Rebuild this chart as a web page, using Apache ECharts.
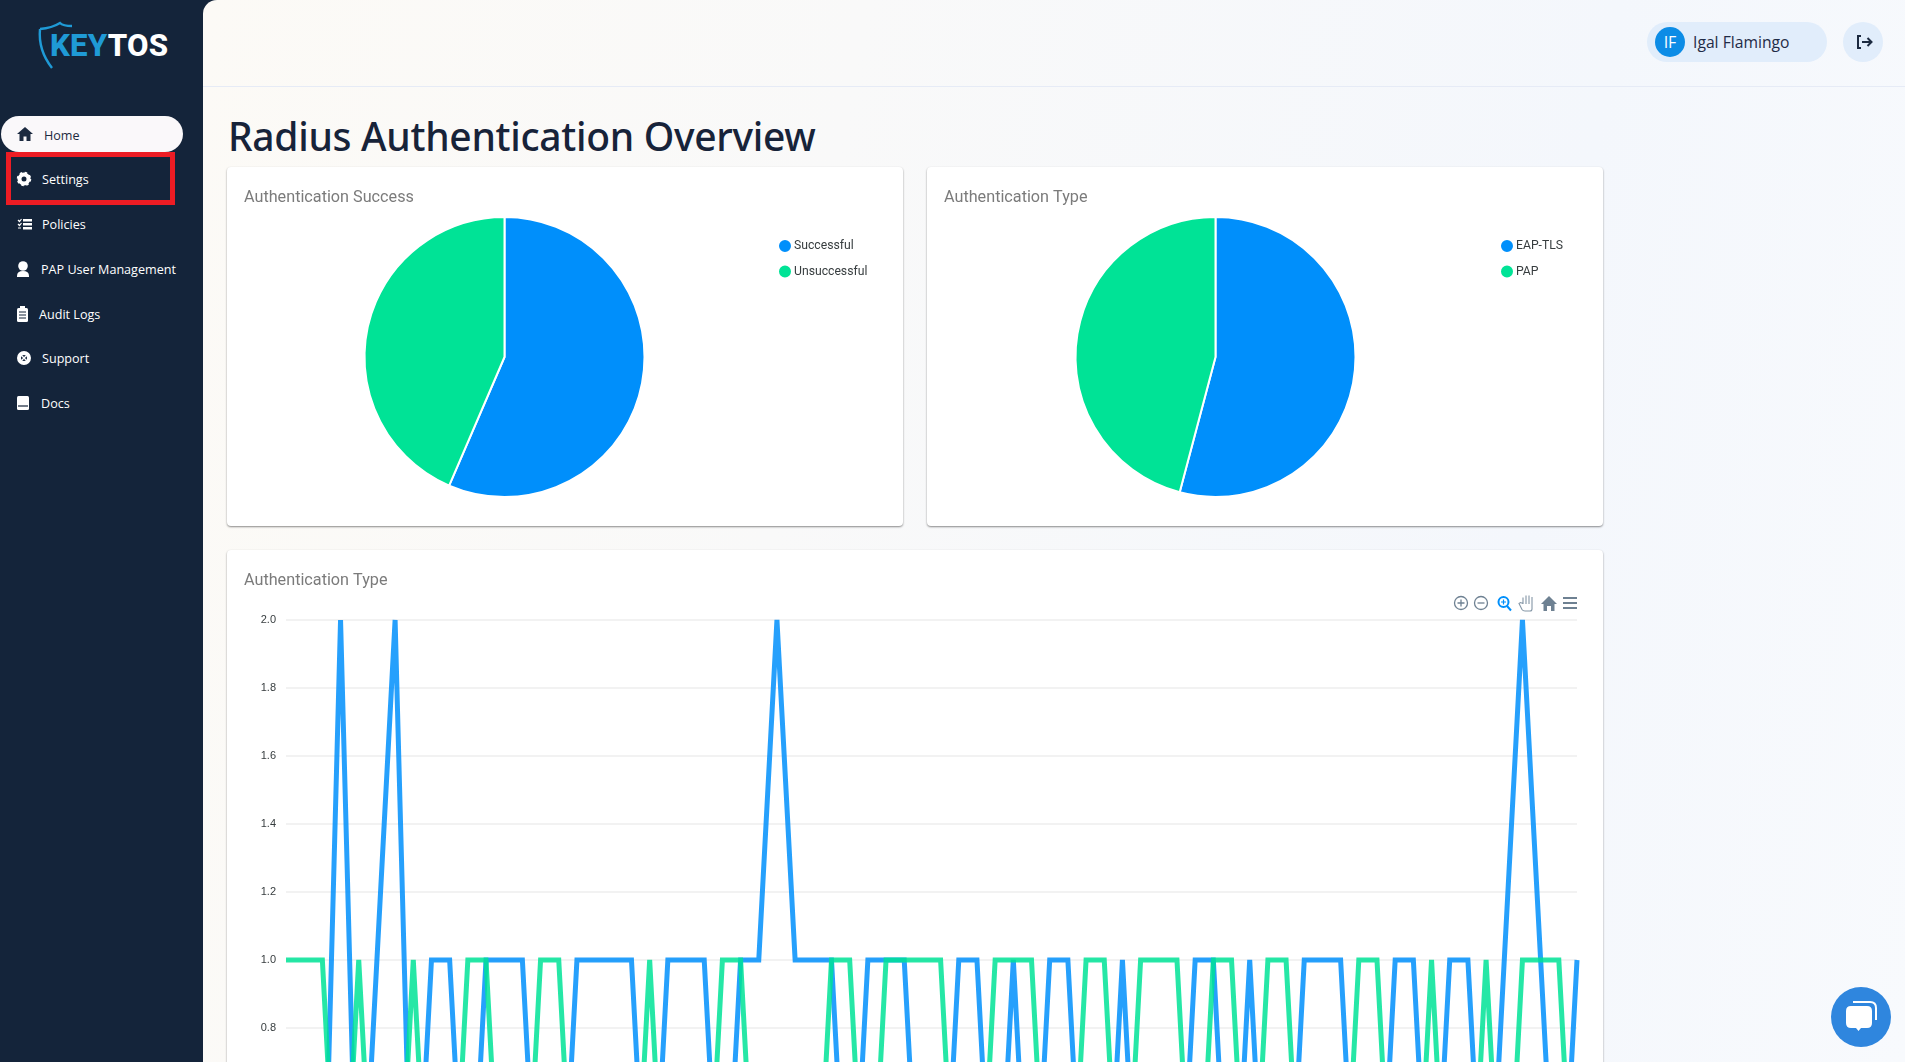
<!DOCTYPE html>
<html><head><meta charset="utf-8">
<script src="https://cdn.jsdelivr.net/npm/echarts@6/dist/echarts.min.js"></script>
<style>
html,body{margin:0;padding:0;width:1905px;height:1062px;overflow:hidden;background:#14243a;font-family:"Open Sans",sans-serif}
#main{position:absolute;left:203px;top:0;width:1702px;height:1062px;border-top-left-radius:14px;overflow:hidden;background:linear-gradient(100deg,#fcfaf6 0%,#f9f9f9 35%,#f4f7fc 75%,#f8fafd 100%)}
#topline{position:absolute;left:203px;top:86px;width:1702px;height:1px;background:#e6ebf6}
h1{position:absolute;left:228px;top:109px;margin:0;font:500 39px "Noto Sans",sans-serif;letter-spacing:-.3px;color:#172339;white-space:nowrap}
.card{position:absolute;background:#fff;border-radius:4px;box-shadow:0 1px 2px rgba(0,0,0,.45)}
.nav{position:absolute;color:#fff;font-size:12.600px;line-height:20px;white-space:nowrap}
.ic{position:absolute}
#pill{position:absolute;left:1647px;top:22px;width:180px;height:40px;border-radius:20px;background:#e1edfb}
#av{position:absolute;left:1655px;top:27px;width:30px;height:30px;border-radius:50%;background:#0c8ce6;color:#fff;font-size:16px;line-height:30px;text-align:center}
#un{position:absolute;left:1693px;top:31px;font-size:15.700px;line-height:22px;color:#1f2b46}
#out{position:absolute;left:1843px;top:22px;width:40px;height:40px;border-radius:50%;background:#e1edfb}
</style></head><body>
<div id="main"></div><div id="topline"></div>
<svg class="ic" style="left:36px;top:20px" width="40" height="50" viewBox="0 0 40 50"><path d="M4 9 Q16 8 24 3 Q27 6 36 6 M4 9 Q2 30 16 48" fill="none" stroke="#1f9ad6" stroke-width="2.400"/></svg>
<div style="position:absolute;left:50px;top:25px;font:800 31.200px 'Roboto',sans-serif;letter-spacing:.2px;line-height:42px"><span style="color:#1f9ad6">KEY</span><span style="color:#fff">TOS</span></div>
<div style="position:absolute;left:1px;top:116px;width:182px;height:36px;border-radius:18px;background:#faf8fa"></div>
<div style="position:absolute;left:6px;top:152px;width:159px;height:43px;border:5px solid #ed1c24"></div>
<div class="nav" style="left:44px;top:126px;color:#1c2a40">Home</div>
<div class="nav" style="left:42px;top:170px">Settings</div>
<div class="nav" style="left:42px;top:215px">Policies</div>
<div class="nav" style="left:41px;top:260px">PAP User Management</div>
<div class="nav" style="left:39px;top:305px">Audit Logs</div>
<div class="nav" style="left:42px;top:349px">Support</div>
<div class="nav" style="left:41px;top:394px">Docs</div>
<svg class="ic" style="left:0;top:0" width="60" height="430">
<path d="M25 127 l8 7h-2.500v7h-4v-4.500h-3v4.500h-4v-7h-2.500z" fill="#1c2a40"/>
<circle cx="24" cy="179" r="4.500" fill="none" stroke="#fff" stroke-width="4"/><circle cx="24" cy="179" r="6.500" fill="none" stroke="#fff" stroke-width="1.500" stroke-dasharray="2.500 2.600"/>
<path d="M23 219h9v2.400h-9zM23 223h9v2.400h-9zM23 227h9v2.400h-9z" fill="#fff"/><path d="M18 220l1.500 1.500 2-2.500M18 228h3M18 224l1.500 1.500 2-2.500" fill="none" stroke="#fff" stroke-width="1.200"/>
<circle cx="23" cy="266" r="4.800" fill="#fff"/><path d="M17 276q0-5 6-5t6 5v1h-12z" fill="#fff"/>
<rect x="17" y="308" width="11" height="14" rx="1.500" fill="#fff"/><rect x="20" y="306" width="5" height="3" fill="#fff"/><path d="M19 312h7M19 315h7M19 318h7" stroke="#14243a" stroke-width="1"/>
<circle cx="24" cy="358" r="5" fill="none" stroke="#fff" stroke-width="4"/><path d="M20 354l8 8M28 354l-8 8" stroke="#fff" stroke-width="1.400"/>
<rect x="17" y="396" width="12" height="14" rx="1.500" fill="#fff"/><path d="M18 406h10" stroke="#14243a" stroke-width="1.200"/>
</svg>
<div id="pill"></div><div id="av">IF</div><div id="un">Igal Flamingo</div><div id="out"></div>
<svg class="ic" style="left:1843px;top:22px" width="40" height="40"><path d="M18 14h-3v12h3" fill="none" stroke="#1c2a40" stroke-width="2"/><path d="M19 20h9M24.500 16l4 4-4 4" fill="none" stroke="#1c2a40" stroke-width="2"/></svg>
<h1>Radius Authentication Overview</h1>
<div class="card" id="c1" style="left:227px;top:167px;width:676px;height:359px"></div>
<div class="card" id="c2" style="left:927px;top:167px;width:676px;height:359px"></div>
<div class="card" id="c3" style="left:227px;top:550px;width:1376px;height:760px"></div>
<svg class="ic" style="left:1450px;top:594px" width="132" height="20" fill="none" stroke="#6e8192" stroke-width="1.300">
<circle cx="11" cy="9" r="6.500"/><path d="M11 5.500v7M7.500 9h7"/>
<circle cx="31" cy="9" r="6.500"/><path d="M27.500 9h7"/>
<g stroke="#008ffb" stroke-width="2"><circle cx="53.500" cy="8" r="5"/><path d="M57 12l4 4.500"/><path d="M51 8h5M53.500 5.500v5" stroke-width="1.200"/></g>
<g stroke="#8496a6" stroke-width="1.100"><path d="M73 10V3.500M76 10V1.500M79 10V1.500M82 10V3M73 9.500l-2.500-1-1.500 1 3 6q1 1.500 3 1.500h5q2 0 2-2V3"/></g>
<path d="M99 2l8 8h-2.500v7h-3.500v-5h-4v5h-3.500v-7h-2.500z" fill="#6e8192" stroke="none"/>
<path d="M113 4h14M113 9h14M113 14h14" stroke-width="2"/>
</svg>
<div style="position:absolute;left:1831px;top:987px;width:60px;height:60px;border-radius:50%;background:#2f86de"></div>
<svg class="ic" style="left:1805px;top:960px" width="100" height="102"><path d="M48 42h17q6 0 6 6v12" fill="none" stroke="#fff" stroke-width="2"/><path d="M46 46h16q5 0 5 5v12q0 5-5 5h-6l-2.500 3-2.500-3h-5q-5 0-5-5v-12q0-5 5-5z" fill="#fff"/></svg>
<script>
// ---- data ----
const successNames = ['Successful','Unsuccessful'];
const successValues = [48,37];
const typeNames = ['EAP-TLS','PAP'];
const typeValues = [46,39];
const eapTls = [0,0,0,2,0,1,2,0,1,1,0,1,1,1,0,0,1,1,1,1,0,1,1,1,0,1,1,2,1,1,1,0,1,1,1,0,0,1,1,0,1,0,1,1,0,0,1,0,0,0,1,1,0,1,0,0,1,1,1,0,0,1,1,0,1,1,0,1,2,1,0,1];
const pap = [1,1,1,0,1,0,0,1,0,0,1,1,0,0,1,1,0,0,0,0,1,0,0,0,1,1,0,0,0,0,1,1,0,1,1,1,1,0,0,1,1,1,0,0,1,1,0,1,1,1,0,1,1,0,1,1,0,0,0,1,1,0,0,1,0,0,1,0,1,1,1,0];
const xCategories = eapTls.map((_,i)=>String(i+1));
const yTicks = [0,0.2,0.4,0.6,0.8,1.0,1.2,1.4,1.6,1.8,2.0];
const COLORS = ['#008FFB','#00E396'];
const titleStyle = {fontFamily:'Roboto',fontSize:16.200,fontWeight:400,color:'#7b7b7b'};

function pie(id,title,names,values,center,legendLeft,legendTop){
  const c = echarts.init(document.getElementById(id));
  c.setOption({
    animation:false,color:COLORS,
    title:{text:title,left:17,top:23,padding:0,textStyle:titleStyle},
    legend:{orient:'vertical',left:legendLeft,top:legendTop,padding:0,icon:'circle',itemWidth:14,itemHeight:14,itemGap:9.500,
      textStyle:{fontFamily:'Roboto',fontSize:12.200,color:'#373d3f',padding:[3,0,0,-3]},data:names},
    series:[{type:'pie',center:center,radius:[0,140],startAngle:90,clockwise:true,silent:true,
      label:{show:false},labelLine:{show:false},itemStyle:{borderColor:'#fff',borderWidth:2},
      data:names.map((n,i)=>({name:n,value:values[i]}))}]
  });
}
pie('c1','Authentication Success',successNames,successValues,[277.500,190],550,71);
pie('c2','Authentication Type',typeNames,typeValues,[288.500,190],572,71);

const lc = echarts.init(document.getElementById('c3'));
lc.setOption({
  animation:false,color:COLORS,
  title:{text:'Authentication Type',left:17,top:23,padding:0,textStyle:titleStyle},
  grid:{left:59,right:26,top:70,height:680,containLabel:false},
  xAxis:{type:'category',boundaryGap:false,data:xCategories,axisLine:{show:false},axisTick:{show:false},axisLabel:{show:false},splitLine:{show:false}},
  yAxis:{type:'value',min:0,max:2,interval:0.2,axisLine:{show:false},axisTick:{show:false},
    axisLabel:{margin:10,fontFamily:'"Liberation Sans", sans-serif',fontSize:11,color:'#373d3f',padding:[0,0,6,0],
      formatter:v=>yTicks.find(t=>Math.abs(t-v)<1e-6).toFixed(1)},
    splitLine:{lineStyle:{color:'#eeeeee',width:1.500}}},
  series:[
    {name:'EAP-TLS',type:'line',data:eapTls,showSymbol:false,smooth:false,clip:true,lineStyle:{width:5,opacity:.85,join:'miter'}},
    {name:'PAP',type:'line',data:pap,showSymbol:false,smooth:false,clip:true,lineStyle:{width:5,opacity:.85,join:'miter'}}
  ]
});
</script>
</body></html>
